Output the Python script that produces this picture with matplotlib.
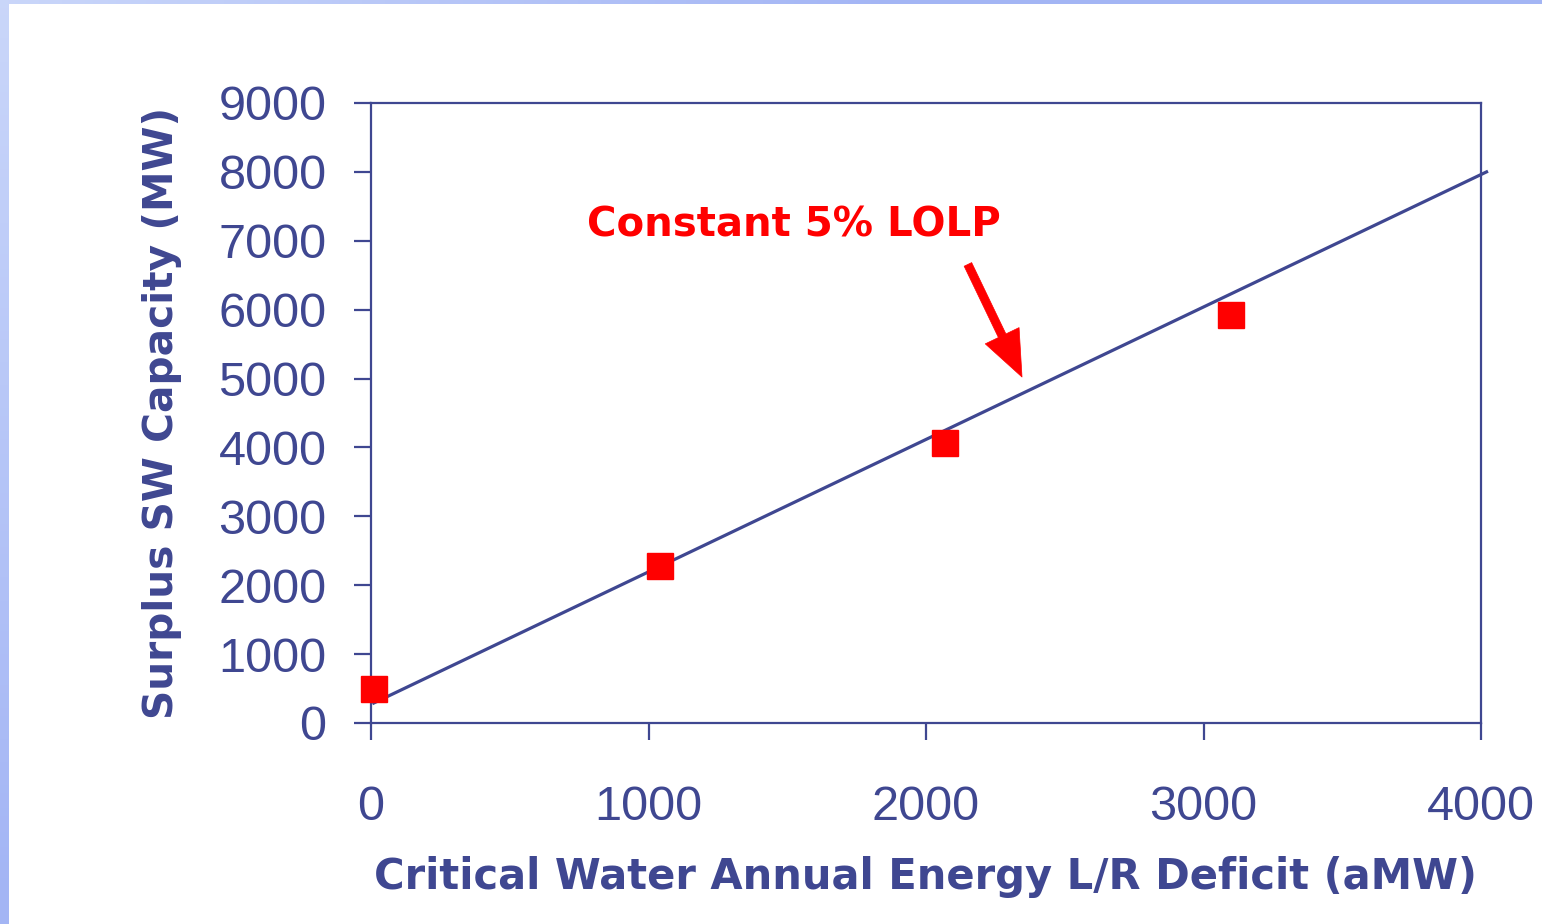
import matplotlib
matplotlib.use("Agg")
import numpy as np
import matplotlib.pyplot as plt
from matplotlib.patches import Rectangle

# data
deficit = [10, 1040, 2070, 3100]          # aMW
surplus = [500, 2280, 4060, 5920]         # MW
fit_x = [10, 4020]
fit_y = [290, 8000]
xticks = [0, 1000, 2000, 3000, 4000]
yticks = [0, 1000, 2000, 3000, 4000, 5000, 6000, 7000, 8000, 9000]

navy = "#3f4791"
red = "#ff0000"

fig = plt.figure(figsize=(15.42, 9.24), dpi=100)

# slide background: soft blue gradient with a white panel
bg = fig.add_axes([0, 0, 1, 1], zorder=-20)
gx, gy = np.meshgrid(np.linspace(0, 1542, 200), np.linspace(0, 924, 120))
t = np.clip((gx + gy) / 900.0, 0, 1)[..., None]
light = np.array([0.79, 0.84, 0.98])
dark = np.array([0.64, 0.71, 0.96])
bg.imshow(light * (1 - t) + dark * t, extent=[0, 1, 0, 1], aspect="auto",
          origin="upper")
bg.add_patch(Rectangle((9 / 1542, 0), 1, 1 - 4 / 924, facecolor="white",
                       edgecolor="none"))
bg.set_xlim(0, 1)
bg.set_ylim(0, 1)
bg.axis("off")

ax = fig.add_axes([371 / 1542, 1 - 723 / 924, 1110 / 1542, 620 / 924])
ax.set_facecolor("white")

ax.plot(fit_x, fit_y, color=navy, lw=2.3, clip_on=False, zorder=3)
ax.plot(deficit, surplus, "s", color=red, ms=19, mec=red, clip_on=False, zorder=4)

ax.set_xlim(0, 4000)
ax.set_ylim(0, 9000)
ax.set_xticks(xticks)
ax.set_yticks(yticks)

for s in ax.spines.values():
    s.set_color(navy)
    s.set_linewidth(1.6)

ax.tick_params(axis="both", colors=navy, width=1.6, length=12,
               labelsize=35, labelfontfamily="Liberation Sans")
ax.tick_params(axis="x", pad=33)
ax.tick_params(axis="y", pad=20)

ax.set_xlabel("Critical Water Annual Energy L/R Deficit (aMW)", color=navy,
              fontsize=30, fontweight="bold", family="DejaVu Sans", labelpad=18)
ax.set_ylabel("Surplus SW Capacity (MW)", color=navy,
              fontsize=29.3, fontweight="bold", family="DejaVu Sans", labelpad=26)

ax.text(1524, 7228, "Constant 5% LOLP", ha="center", va="center", color=red,
        fontsize=29, fontweight="bold", family="DejaVu Sans")
ax.annotate("", xy=(2346, 5022), xytext=(2151, 6657),
            arrowprops=dict(width=6, headwidth=27, headlength=33,
                            facecolor=red, edgecolor=red, lw=0.5,
                            shrink=0))

fig.savefig("out.png", dpi=100)
